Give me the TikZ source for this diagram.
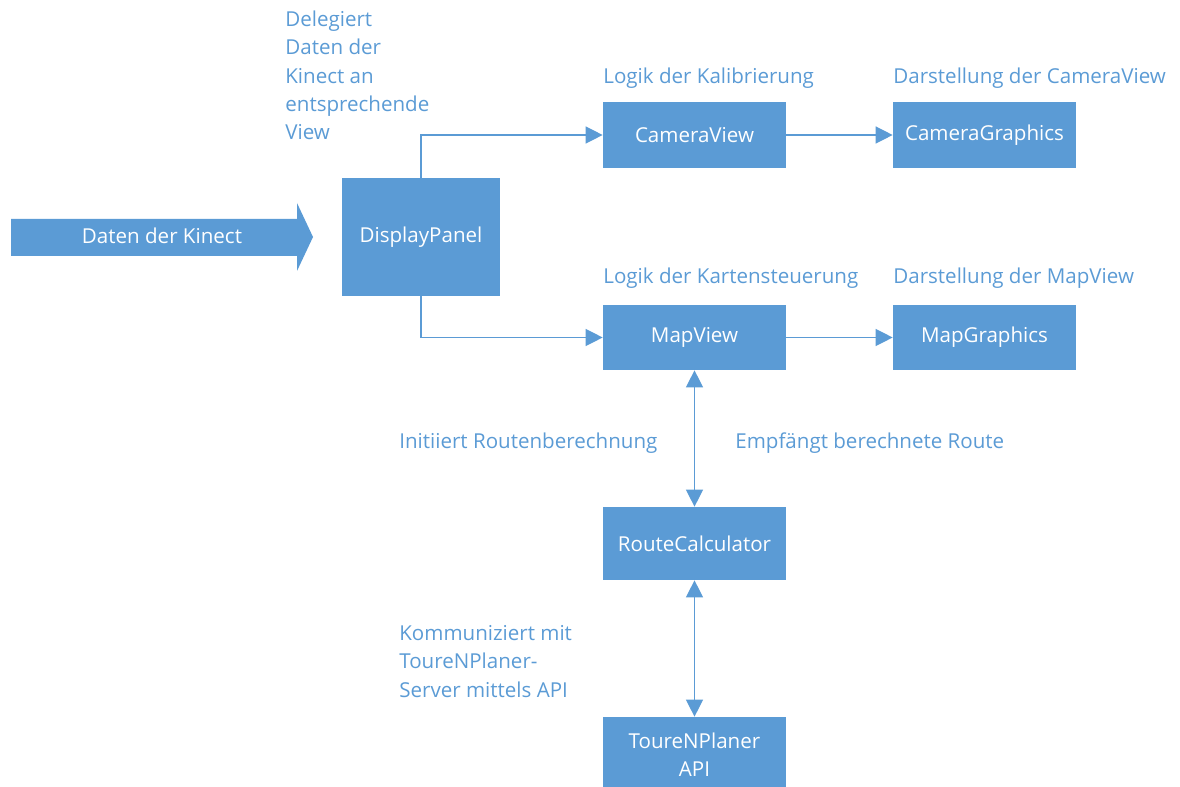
\documentclass[tikz,border=0pt]{standalone}
\usepackage{fontspec}
\setmainfont{Open Sans}
\usetikzlibrary{arrows.meta,positioning}
\definecolor{kblue}{HTML}{5B9BD5}

\tikzset{
  block/.style={fill=kblue,text=white,inner sep=0pt,minimum width=3.66cm,minimum height=1.32cm},
  note/.style={text=kblue,anchor=base west,align=left,inner sep=0pt},
  conn/.style={draw=kblue,line width=0.75pt,-{Triangle[length=9.7pt,width=9.7pt]}},
  dconn/.style={draw=kblue,line width=0.75pt,{Triangle[length=9.7pt,width=9.7pt]}-{Triangle[length=9.7pt,width=9.7pt]}}
}

\begin{document}
\begin{tikzpicture}[x=0.02cm,y=-0.02cm,font=\fontsize{11.7pt}{16.2pt}\selectfont]
  \useasboundingbox (0,0) rectangle (1180,787);

  % input arrow
  \fill[kblue] (11,219) -- (297,219) -- (297,203) -- (313,237) -- (297,271) -- (297,256) -- (11,256) -- cycle;
  \node[text=white,anchor=base] (kinect) at (162,244) {Daten der Kinect};

  % blocks
  \node[block,minimum width=3.16cm,minimum height=2.36cm] (panel) at (421,237) {DisplayPanel};
  \node[block] (camview) at (694.5,135) {CameraView};
  \node[block] (camgfx) at (984.5,135) {CameraGraphics};
  \node[block,minimum height=1.3cm] (mapview) at (694.5,337.5) {MapView};
  \node[block,minimum height=1.3cm] (mapgfx) at (984.5,337.5) {MapGraphics};
  \node[block,minimum height=1.46cm] (router) at (694.5,543.5) {RouteCalculator};
  \node[block,minimum height=1.5cm,align=center] (api) at (694.5,754.5) {ToureNPlaner\\API};

  % notes (multi-line ones sit on their last line)
  \node[note] (delegate) at (285,140) {Delegiert\\Daten der\\Kinect an\\entsprechende\\View};
  \node[note] (camlogic) at (603,84) {Logik der Kalibrierung};
  \node[note] (camshow) at (893,84) {Darstellung der CameraView};
  \node[note] (maplogic) at (603,284) {Logik der Kartensteuerung};
  \node[note] (mapshow) at (893,284) {Darstellung der MapView};
  \node[note] (request) at (399,448) {Initiiert Routenberechnung};
  \node[note] (receive) at (735,448) {Empfängt berechnete Route};
  \node[note] (talk) at (399,697) {Kommuniziert mit\\ToureNPlaner-\\Server mittels API};

  % connectors
  \draw[conn] (panel.north) |- (camview.west);
  \draw[conn] (panel.south) |- (mapview.west);
  \draw[conn] (camview) -- (camgfx);
  \draw[conn] (mapview) -- (mapgfx);
  \draw[dconn] (mapview) -- (router);
  \draw[dconn] (router) -- (api);
\end{tikzpicture}
\end{document}
